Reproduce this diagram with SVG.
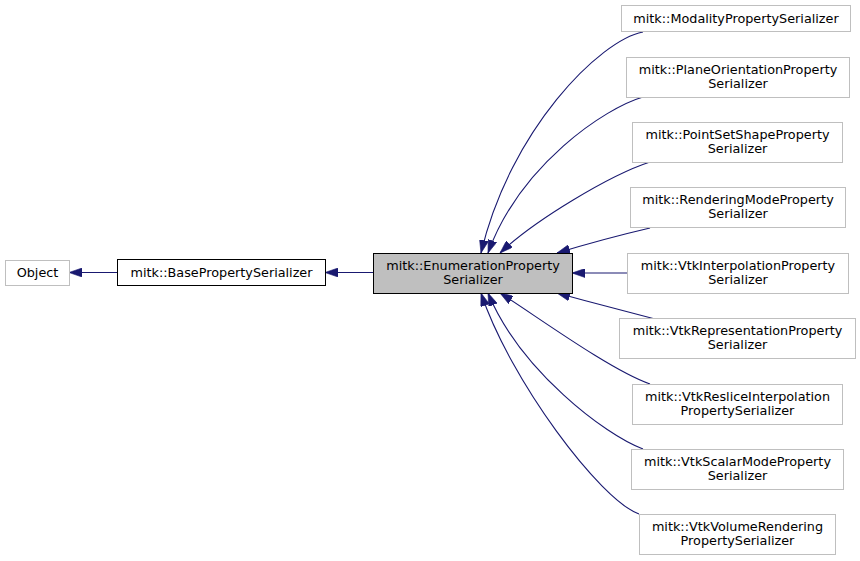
<svg xmlns="http://www.w3.org/2000/svg" width="860" height="561" viewBox="0 0 860 561">
<style>
text{font-family:"DejaVu Sans",sans-serif;font-size:12.8px;fill:#000;text-anchor:middle}
.n{fill:#fff;stroke:#bfbfbf;stroke-width:1}
.b{fill:#fff;stroke:#000;stroke-width:1}
.c{fill:#bfbfbf;stroke:#000;stroke-width:1}
.e{fill:none;stroke:#191970;stroke-width:1.1;marker-end:url(#ah)}
</style>
<defs>
<marker id="ah" markerUnits="userSpaceOnUse" viewBox="0 0 13 9" refX="13" refY="4.5" markerWidth="13" markerHeight="9" orient="auto">
<path d="M0,0 L13,4.5 L0,9 z" fill="#191970" stroke="#191970" stroke-width="0.6"/>
</marker>
</defs>
<rect width="860" height="561" fill="#fff"/>
<g id="connectors">
<path class="e" d="M117,272.5 L69,272.5"/>
<path class="e" d="M373,272.5 L325,272.5"/>
<path class="e" d="M627,273 L572,273"/>
<path class="e" d="M643,32 C600,40 510,130 481,253"/>
<path class="e" d="M643,97 C605,108 520,165 488,253"/>
<path class="e" d="M650,162 C610,175 535,220 500,253"/>
<path class="e" d="M650,228 C620,235 590,243 557,253"/>
<path class="e" d="M655,319 C625,311 590,302 557,293"/>
<path class="e" d="M650,384 C610,370 535,315 500,293"/>
<path class="e" d="M643,449 C605,435 520,370 488,293"/>
<path class="e" d="M639,514 C600,500 510,380 481,293"/>
</g>
<g id="node-object"><rect class="n" x="5.5" y="260.5" width="64" height="25"/><text x="37.5" y="277">Object</text></g>
<g id="node-base"><rect class="b" x="117.5" y="259.5" width="208" height="26"/><text x="221.5" y="277">mitk::BasePropertySerializer</text></g>
<g id="node-enum"><rect class="c" x="373.5" y="253.5" width="199" height="40"/><text x="473" y="270">mitk::EnumerationProperty</text><text x="473" y="284">Serializer</text></g>
<g id="node-modality"><rect class="n" x="621.5" y="5.5" width="229" height="26"/><text x="736" y="23">mitk::ModalityPropertySerializer</text></g>
<g id="node-plane"><rect class="n" x="626.5" y="57.5" width="223" height="40"/><text x="738" y="74">mitk::PlaneOrientationProperty</text><text x="738" y="88">Serializer</text></g>
<g id="node-pointset"><rect class="n" x="632.5" y="122.5" width="210" height="40"/><text x="737.5" y="139">mitk::PointSetShapeProperty</text><text x="737.5" y="153">Serializer</text></g>
<g id="node-rendering"><rect class="n" x="630.5" y="187.5" width="215" height="40"/><text x="738" y="204">mitk::RenderingModeProperty</text><text x="738" y="218">Serializer</text></g>
<g id="node-interp"><rect class="n" x="627.5" y="253.5" width="221" height="40"/><text x="738" y="270">mitk::VtkInterpolationProperty</text><text x="738" y="284">Serializer</text></g>
<g id="node-repr"><rect class="n" x="619.5" y="318.5" width="236" height="40"/><text x="737.5" y="335">mitk::VtkRepresentationProperty</text><text x="737.5" y="349">Serializer</text></g>
<g id="node-reslice"><rect class="n" x="632.5" y="384.5" width="210" height="40"/><text x="737.5" y="401">mitk::VtkResliceInterpolation</text><text x="737.5" y="415">PropertySerializer</text></g>
<g id="node-scalar"><rect class="n" x="631.5" y="449.5" width="212" height="40"/><text x="737.5" y="466">mitk::VtkScalarModeProperty</text><text x="737.5" y="480">Serializer</text></g>
<g id="node-volume"><rect class="n" x="639.5" y="514.5" width="196" height="40"/><text x="737.5" y="531">mitk::VtkVolumeRendering</text><text x="737.5" y="545">PropertySerializer</text></g>
</svg>
